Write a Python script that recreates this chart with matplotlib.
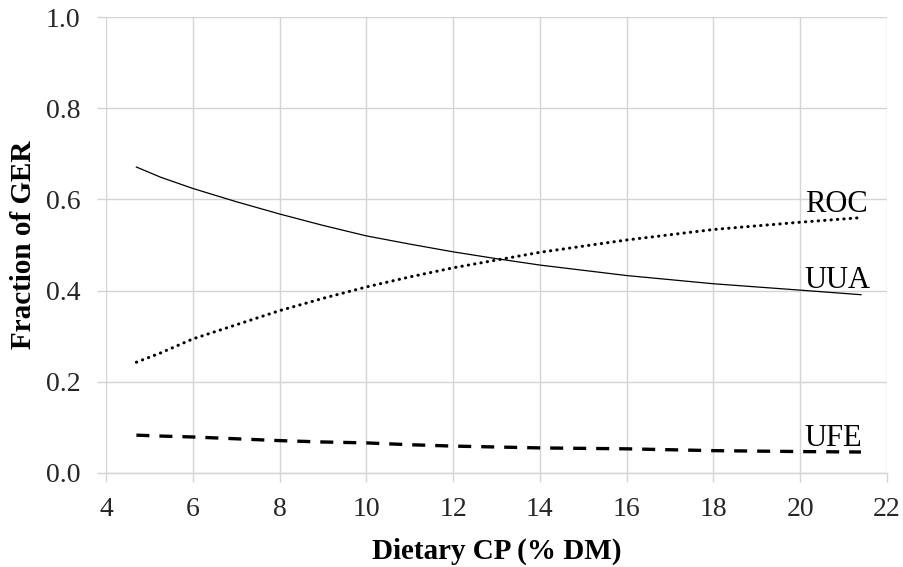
import numpy as np
import matplotlib
matplotlib.use("Agg")
import matplotlib.pyplot as plt

# values
cp = [4.7, 5.25, 6, 7, 8, 9, 10, 11, 12, 13, 14, 16, 18, 20, 21.4]
uua = [0.671, 0.649, 0.624, 0.595, 0.568, 0.543, 0.520, 0.502, 0.485, 0.470, 0.456, 0.433, 0.415, 0.401, 0.391]
roc = [0.243, 0.263, 0.294, 0.325, 0.356, 0.383, 0.408, 0.430, 0.450, 0.467, 0.484, 0.511, 0.534, 0.550, 0.560]
ufe = [0.083, 0.081, 0.079, 0.075, 0.071, 0.068, 0.066, 0.062, 0.059, 0.057, 0.055, 0.053, 0.049, 0.047, 0.046]

xticks = [4, 6, 8, 10, 12, 14, 16, 18, 20, 22]
yticks = [0.0, 0.2, 0.4, 0.6, 0.8, 1.0]

plt.rcParams['font.family'] = ['Liberation Serif', 'DejaVu Serif']
grid_c = '#d4d4d4'
txt_c = '#262626'

fig = plt.figure(figsize=(9.04, 5.67), dpi=100)
ax = fig.add_axes([0.1173, 0.1658, 0.8639, 0.8042])

ax.plot(cp, uua, color='black', lw=0.9)
ax.plot(cp, roc, color='black', lw=2.2, linestyle=(0, (0.1, 2.0)), dash_capstyle='round')
ax.plot(cp, ufe, color='black', lw=2.4, linestyle=(0, (3.9, 3.0)))

ax.text(20.1, 0.572, 'ROC', fontsize=22, color='black', va='baseline')
ax.text(20.1, 0.406, 'UUA', fontsize=22, color='black', va='baseline')
ax.text(20.1, 0.059, 'UFE', fontsize=22, color='black', va='baseline')

ax.set_xlim(4, 22)
ax.set_ylim(0, 1)
ax.set_xticks(xticks)
ax.set_yticks(yticks)
ax.set_yticklabels(['%.1f' % v for v in yticks])
ax.grid(True, color=grid_c, lw=1.0)
ax.set_axisbelow(True)
for s in ['top', 'right', 'left']:
    ax.spines[s].set_visible(False)
ax.spines['bottom'].set_color(grid_c)
ax.spines['bottom'].set_linewidth(1.0)
ax.tick_params(axis='x', color=grid_c, length=6.5, width=1.0, pad=11, labelsize=20, labelcolor=txt_c)
ax.tick_params(axis='y', color=grid_c, length=6.5, width=1.0, pad=12, labelsize=20, labelcolor=txt_c)

ax.set_xlabel('Dietary CP (% DM)', fontsize=21, fontweight='bold', labelpad=11)
ax.set_ylabel('Fraction of GER', fontsize=21, fontweight='bold', labelpad=6)

fig.savefig('out.png', dpi=100)
